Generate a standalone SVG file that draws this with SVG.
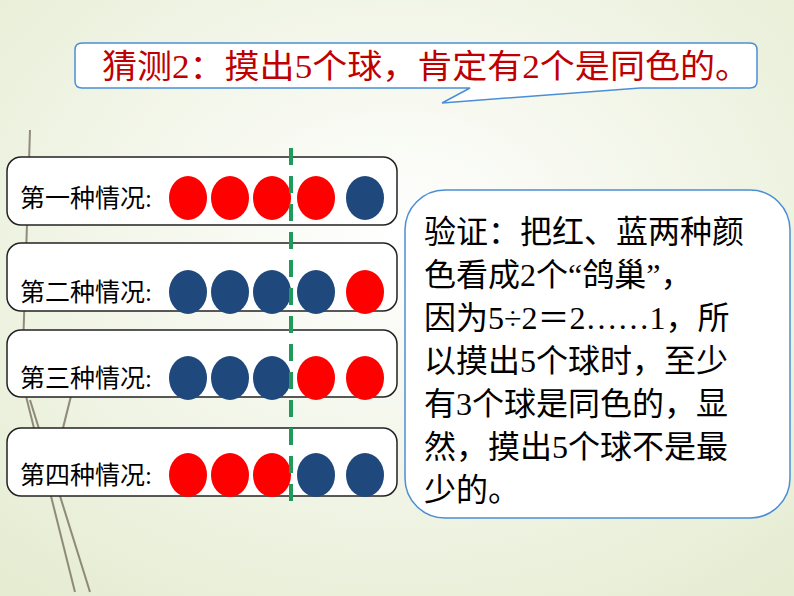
<svg xmlns="http://www.w3.org/2000/svg" width="794" height="596" viewBox="0 0 794 596">
<defs>
<radialGradient id="bg" cx="0.5" cy="0.4" r="0.8"><stop offset="0" stop-color="#ffffff"/><stop offset="1" stop-color="#e4ebcf"/></radialGradient>
<style>
.row{fill:#fff;stroke:#222;stroke-width:1.5}
.lbl{font-family:"Liberation Serif","Noto Sans CJK SC",serif;font-size:25px;fill:#000}
.r{fill:#ff0000}.b{fill:#1f497d}
.t{font-family:"Liberation Serif","Noto Sans CJK SC",serif;font-size:32px;fill:#000}
</style>
</defs>
<rect width="794" height="596" fill="url(#bg)"/>
<g stroke="#7a7260" stroke-width="2" fill="none" opacity="0.8">
<path d="M30 130 L22 380"/><path d="M22 380 L75 592"/><path d="M30 400 L90 592"/><path d="M75 380 L60 440"/>
</g>
<g id="callout">
<path d="M82 43 H750 Q757 43 757 50 V81 Q757 88 750 88 H640 L442 103 L470 88 H82 Q75 88 75 81 V50 Q75 43 82 43 Z" fill="#fff" stroke="#4a8fd6" stroke-width="1.5"/>
<text x="102" y="78" font-family="Liberation Serif,'Noto Sans CJK SC',serif" font-size="33" fill="#c00000" textLength="648" lengthAdjust="spacingAndGlyphs">猜测2：摸出5个球，肯定有2个是同色的。</text>
</g>
<g id="row1"><rect class="row" x="7" y="157" width="390" height="68" rx="14"/><text class="lbl" x="20" y="207">第一种情况:</text>
<ellipse class="r" cx="188" cy="198" rx="19" ry="22"/><ellipse class="r" cx="230" cy="198" rx="19" ry="22"/><ellipse class="r" cx="272" cy="198" rx="19" ry="22"/><ellipse class="r" cx="316" cy="198" rx="19" ry="22"/><ellipse class="b" cx="365" cy="198" rx="19" ry="22"/></g>
<g id="row2"><rect class="row" x="7" y="243" width="390" height="68" rx="14"/><text class="lbl" x="20" y="301">第二种情况:</text>
<ellipse class="b" cx="188" cy="292" rx="19" ry="22"/><ellipse class="b" cx="230" cy="292" rx="19" ry="22"/><ellipse class="b" cx="272" cy="292" rx="19" ry="22"/><ellipse class="b" cx="316" cy="292" rx="19" ry="22"/><ellipse class="r" cx="365" cy="292" rx="19" ry="22"/></g>
<g id="row3"><rect class="row" x="7" y="330" width="390" height="67" rx="14"/><text class="lbl" x="20" y="387">第三种情况:</text>
<ellipse class="b" cx="188" cy="378" rx="19" ry="22"/><ellipse class="b" cx="230" cy="378" rx="19" ry="22"/><ellipse class="b" cx="272" cy="378" rx="19" ry="22"/><ellipse class="r" cx="316" cy="378" rx="19" ry="22"/><ellipse class="r" cx="365" cy="378" rx="19" ry="22"/></g>
<g id="row4"><rect class="row" x="7" y="428" width="390" height="68" rx="14"/><text class="lbl" x="20" y="484">第四种情况:</text>
<ellipse class="r" cx="188" cy="475" rx="19" ry="22"/><ellipse class="r" cx="230" cy="475" rx="19" ry="22"/><ellipse class="r" cx="272" cy="475" rx="19" ry="22"/><ellipse class="b" cx="316" cy="475" rx="19" ry="22"/><ellipse class="b" cx="365" cy="475" rx="19" ry="22"/></g>
<g id="connectors"><line x1="291" y1="148" x2="291" y2="512" stroke="#1e9a5a" stroke-width="4" stroke-dasharray="17,11"/></g>
<g id="proof">
<rect x="405" y="190" width="385" height="328" rx="40" fill="#fff" stroke="#4a8fd6" stroke-width="1.5"/>
<text class="t" x="424" y="243">验证：把红、蓝两种颜</text>
<text class="t" x="424" y="286">色看成2个“鸽巢”，</text>
<text class="t" x="424" y="329">因为5÷2＝2……1，所</text>
<text class="t" x="424" y="372">以摸出5个球时，至少</text>
<text class="t" x="424" y="415">有3个球是同色的，显</text>
<text class="t" x="424" y="458">然，摸出5个球不是最</text>
<text class="t" x="424" y="501">少的。</text>
</g>
</svg>
